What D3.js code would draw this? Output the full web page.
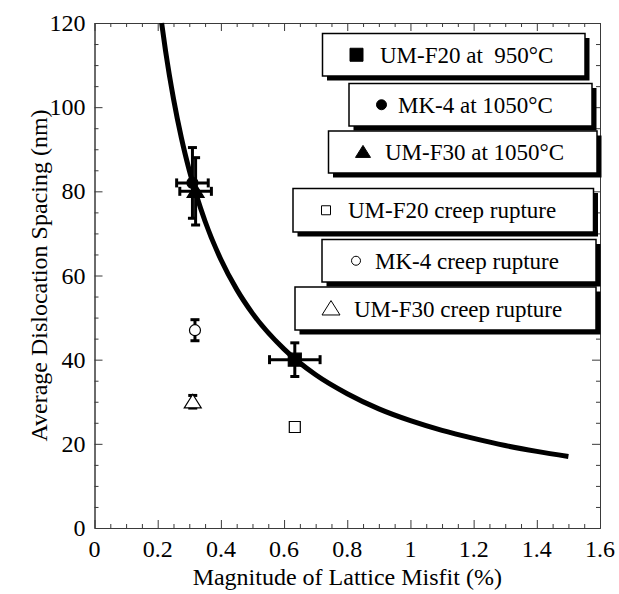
<!DOCTYPE html>
<html>
<head>
<meta charset="utf-8">
<script src="https://cdn.jsdelivr.net/npm/d3@7"></script>
<style>
  html, body { margin: 0; padding: 0; background: #fff; }
  svg { display: block; }
</style>
</head>
<body>
<svg id="chart" width="619" height="594"></svg>
<script>
// ---- data ----
const seriesNames = ["UM-F20 at  950°C", "MK-4 at 1050°C", "UM-F30 at 1050°C",
                     "UM-F20 creep rupture", "MK-4 creep rupture", "UM-F30 creep rupture"];
const seriesSymbols = ["square", "circle", "triangle", "square", "circle", "triangle"];
const seriesFilled = [true, true, true, false, false, false];
const misfit = [0.634, 0.31, 0.32, 0.634, 0.318, 0.311];          // %
const spacing = [40, 82, 80, 24, 47, 30];                          // nm
const misfitErr = [0.08, 0.05, 0.05, 0, 0, 0];
const spacingErr = [4, 8.4, 8, 0, 2.5, 1.5];

// fitted spacing-vs-misfit curve
const curveMisfit = [0.2125, 0.225, 0.25, 0.275, 0.3, 0.35, 0.4, 0.45, 0.5, 0.6, 0.7, 0.8, 0.9, 1.0, 1.1, 1.2, 1.3, 1.4, 1.5];
const curveSpacing = [120, 113.3, 102, 92.7, 85, 72.9, 63.8, 56.7, 51, 42.5, 36.4, 31.9, 28.3, 25.5, 23.2, 21.3, 19.6, 18.2, 17];

const xTickValues = [0, 0.2, 0.4, 0.6, 0.8, 1, 1.2, 1.4, 1.6];
const xTickLabels = ["0", "0.2", "0.4", "0.6", "0.8", "1", "1.2", "1.4", "1.6"];
const yTickValues = [0, 20, 40, 60, 80, 100, 120];
const yTickLabels = ["0", "20", "40", "60", "80", "100", "120"];

// ---- layout ----
const FONT = "'Liberation Serif', 'Times New Roman', 'DejaVu Serif', serif";
const plot = { left: 94.5, right: 600, top: 23, bottom: 528 };
// legend boxes: [x0, y0, x1, y1, markerX, textX]
const legendBoxes = [
  [322.5, 33.5, 585, 76, 356.5, 380],
  [349, 83.5, 592, 126, 381.5, 398],
  [328.5, 131, 597, 173, 363, 385],
  [293, 188.5, 593.5, 232, 326, 348],
  [322, 239.5, 596, 282, 356, 375],
  [295, 287, 596, 330, 331, 354]
];
const legendMarkerSize = [13, 10, 15, 9, 9, 18];

const svg = d3.select("#chart").attr("font-family", FONT);
const x = d3.scaleLinear().domain([0, 1.6]).range([plot.left, plot.right]);
const y = d3.scaleLinear().domain([0, 120]).range([plot.bottom, plot.top]);

const frameColor = "#3a3a3a";

// ---- axes (ticks inside on all four sides) ----
const xMinor = d3.range(0, 1.6001, 0.05).filter(v => Math.abs(v / 0.2 - Math.round(v / 0.2)) > 1e-6);
const yMinor = d3.range(0, 120.001, 5).filter(v => v % 20 !== 0);

function styleAxis(g) {
  g.selectAll("path").attr("stroke", frameColor).attr("stroke-width", 1);
  g.selectAll("line").attr("stroke", frameColor).attr("stroke-width", 1);
  g.selectAll("text").remove();
}

const axes = [
  [d3.axisBottom(x), `translate(0,${plot.bottom})`, xTickValues, xMinor],
  [d3.axisTop(x), `translate(0,${plot.top})`, xTickValues, xMinor],
  [d3.axisLeft(y), `translate(${plot.left},0)`, yTickValues, yMinor],
  [d3.axisRight(y), `translate(${plot.right},0)`, yTickValues, yMinor]
];
axes.forEach(([ax, tr, major, minor]) => {
  svg.append("g").attr("transform", tr)
    .call(ax.tickValues(minor).tickSizeInner(-4).tickSizeOuter(0))
    .call(styleAxis);
  svg.append("g").attr("transform", tr)
    .call(ax.tickValues(major).tickSizeInner(-8).tickSizeOuter(0))
    .call(styleAxis);
});

// tick labels
svg.append("g").selectAll("text")
  .data(xTickValues)
  .join("text")
  .attr("font-family", FONT)
  .attr("x", d => x(d))
  .attr("y", plot.bottom + 29)
  .attr("text-anchor", "middle")
  .attr("font-size", 24)
  .text((d, i) => xTickLabels[i]);

svg.append("g").selectAll("text")
  .data(yTickValues)
  .join("text")
  .attr("font-family", FONT)
  .attr("x", plot.left - 9)
  .attr("y", d => y(d) + 8)
  .attr("text-anchor", "end")
  .attr("font-size", 24)
  .text((d, i) => yTickLabels[i]);

// axis titles
svg.append("text")
  .attr("font-family", FONT)
  .attr("x", (plot.left + plot.right) / 2)
  .attr("y", 585)
  .attr("text-anchor", "middle")
  .attr("font-size", 24)
  .text("Magnitude of Lattice Misfit (%)");

svg.append("text")
  .attr("font-family", FONT)
  .attr("transform", `translate(47,${(plot.top + plot.bottom) / 2}) rotate(-90)`)
  .attr("text-anchor", "middle")
  .attr("font-size", 24)
  .text("Average Dislocation Spacing (nm)");

// ---- fitted curve ----
const line = d3.line()
  .x((d, i) => x(curveMisfit[i]))
  .y((d, i) => y(curveSpacing[i]))
  .curve(d3.curveMonotoneX);
svg.append("path")
  .datum(curveMisfit)
  .attr("d", line)
  .attr("fill", "none")
  .attr("stroke", "#000")
  .attr("stroke-width", 5)
  .attr("stroke-linecap", "butt");

// ---- markers ----
function symbolPath(kind, size) {
  if (kind === "square") {
    const h = size / 2;
    return `M${-h},${-h}H${h}V${h}H${-h}Z`;
  }
  if (kind === "circle") {
    const r = size / 2;
    return `M${r},0A${r},${r} 0 1,1 ${-r},0A${r},${r} 0 1,1 ${r},0Z`;
  }
  const w = size / 2, hgt = size * 0.8;
  return `M0,${-hgt * 0.55}L${w},${hgt * 0.45}L${-w},${hgt * 0.45}Z`;
}

const plotMarkerSize = [13, 11, 17, 11, 11, 17];
const idx = d3.range(misfit.length);
const capHalf = 4.5;

// error bars
const eb = svg.append("g").attr("stroke", "#000").attr("stroke-width", 3);
idx.forEach(i => {
  const cx = x(misfit[i]), cy = y(spacing[i]);
  if (spacingErr[i] > 0) {
    const y0 = y(spacing[i] - spacingErr[i]), y1 = y(spacing[i] + spacingErr[i]);
    eb.append("line").attr("x1", cx).attr("x2", cx).attr("y1", y0).attr("y2", y1);
    eb.append("line").attr("x1", cx - capHalf).attr("x2", cx + capHalf).attr("y1", y0).attr("y2", y0);
    eb.append("line").attr("x1", cx - capHalf).attr("x2", cx + capHalf).attr("y1", y1).attr("y2", y1);
  }
  if (misfitErr[i] > 0) {
    const x0 = x(misfit[i] - misfitErr[i]), x1 = x(misfit[i] + misfitErr[i]);
    eb.append("line").attr("x1", x0).attr("x2", x1).attr("y1", cy).attr("y2", cy);
    eb.append("line").attr("x1", x0).attr("x2", x0).attr("y1", cy - capHalf).attr("y2", cy + capHalf);
    eb.append("line").attr("x1", x1).attr("x2", x1).attr("y1", cy - capHalf).attr("y2", cy + capHalf);
  }
});

svg.append("g").selectAll("path")
  .data(idx)
  .join("path")
  .attr("transform", i => `translate(${x(misfit[i])},${y(spacing[i])})`)
  .attr("d", i => symbolPath(seriesSymbols[i], plotMarkerSize[i]))
  .attr("fill", i => seriesFilled[i] ? "#000" : "#fff")
  .attr("stroke", "#000")
  .attr("stroke-width", 1.2);

// ---- legend boxes with drop shadows ----
const lg = svg.append("g");
legendBoxes.forEach((b, i) => {
  const [x0, y0, x1, y1, mx, tx] = b;
  const g = lg.append("g");
  g.append("rect")
    .attr("x", x0 + 4.5).attr("y", y0 + 4.5)
    .attr("width", x1 - x0).attr("height", y1 - y0)
    .attr("fill", "#000");
  g.append("rect")
    .attr("x", x0).attr("y", y0)
    .attr("width", x1 - x0).attr("height", y1 - y0)
    .attr("fill", "#fff").attr("stroke", "#000").attr("stroke-width", 1.5);
  const cy = (y0 + y1) / 2;
  g.append("path")
    .attr("transform", `translate(${mx},${cy})`)
    .attr("d", symbolPath(seriesSymbols[i], legendMarkerSize[i]))
    .attr("fill", seriesFilled[i] ? "#000" : "#fff")
    .attr("stroke", "#000").attr("stroke-width", 1);
  g.append("text")
    .attr("font-family", FONT)
    .attr("x", tx).attr("y", cy + 8)
    .attr("font-size", 23)
    .attr("xml:space", "preserve")
    .style("white-space", "pre")
    .text(seriesNames[i]);
});
</script>
</body>
</html>
